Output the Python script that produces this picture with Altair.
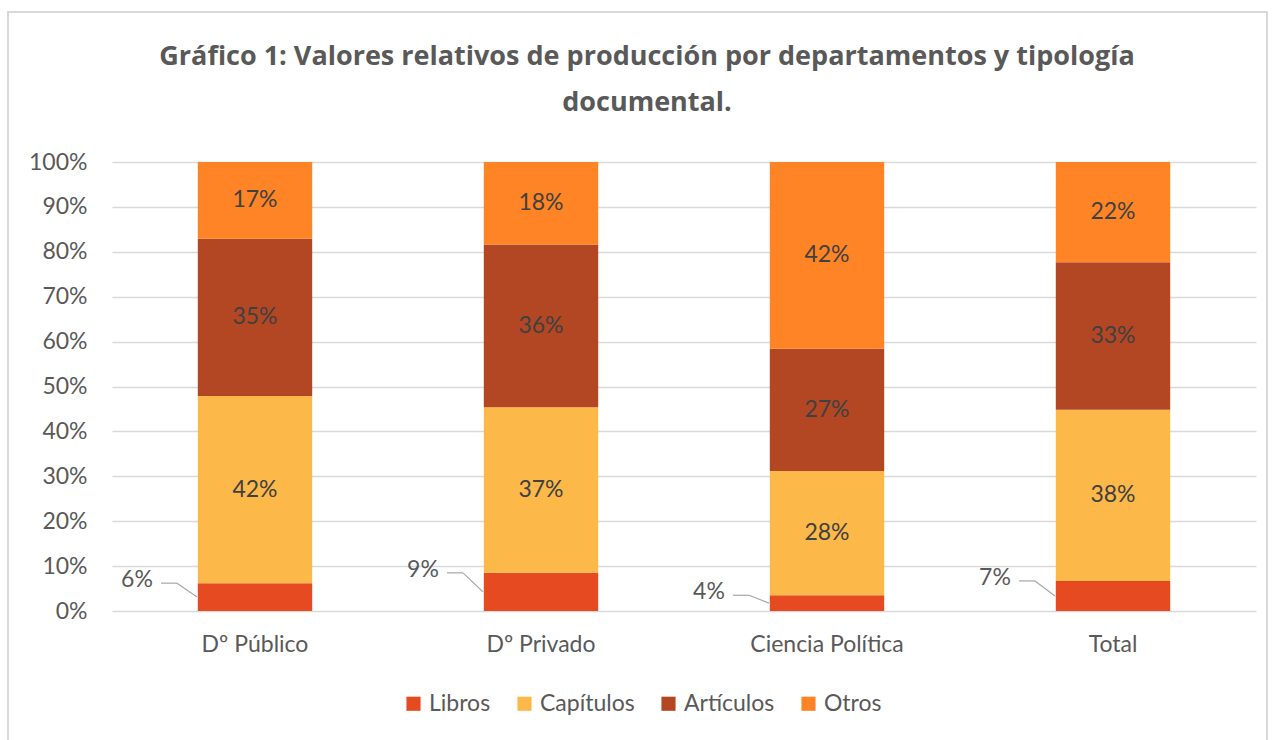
import altair as alt
import pandas as pd

departamentos = ["Dº Público", "Dº Privado", "Ciencia Política", "Total"]
tipologias = ["Libros", "Capítulos", "Artículos", "Otros"]
libros = [6.2, 8.5, 3.5, 6.7]
capitulos = [41.7, 36.9, 27.7, 38.1]
articulos = [35.0, 36.2, 27.2, 32.9]
otros = [17.1, 18.4, 41.6, 22.3]
colores = ["#E64A20", "#FDB84A", "#B34724", "#FF8425"]
titulo = ["Gráfico 1: Valores relativos de producción por departamentos y tipología",
          "documental."]

rows = []
for i, d in enumerate(departamentos):
    acc = 0.0
    for t, serie in zip(tipologias, [libros, capitulos, articulos, otros]):
        v = serie[i]
        rows.append({"dep": d, "tipo": t, "v": v, "y0": acc, "y1": acc + v,
                     "mid": acc + v / 2, "label": f"{int(v + 0.5)}%",
                     "orden": tipologias.index(t)})
        acc += v
df = pd.DataFrame(rows)

FONT = "Lato"
GRAY = "#595959"
FS = 23

xenc = alt.X("dep:N", sort=departamentos, title=None,
             scale=alt.Scale(paddingInner=0.6, paddingOuter=0.3),
             axis=alt.Axis(labelAngle=0, labelFontSize=FS, labelColor=GRAY,
                           labelFont=FONT, ticks=False, domain=False,
                           labelPadding=22))
yscale = alt.Scale(domain=[0, 100], nice=False)

base = alt.Chart(df)

border = alt.Chart(pd.DataFrame({"a": [0]})).mark_rect(
    fill="transparent", stroke="#D9D9D9", strokeWidth=2
).encode(x=alt.value(-104), x2=alt.value(1155), y=alt.value(-150), y2=alt.value(640))

title_df = pd.DataFrame({"t": titulo, "linea": [0, 1]})
title1 = alt.Chart(title_df).transform_filter("datum.linea == 0").mark_text(
    fontSize=27, font="Open Sans", fontWeight="bold", color=GRAY, baseline="middle", align="center"
).encode(x=alt.value(535), y=alt.value(-105), text="t:N")
title2 = alt.Chart(title_df).transform_filter("datum.linea == 1").mark_text(
    fontSize=27, font="Open Sans", fontWeight="bold", color=GRAY, baseline="middle", align="center"
).encode(x=alt.value(535), y=alt.value(-59), text="t:N")

bars = base.mark_bar().encode(
    x=xenc,
    y=alt.Y("y0:Q", scale=yscale, title=None,
            axis=alt.Axis(values=list(range(0, 101, 10)), labelExpr="datum.value + '%'",
                          labelFontSize=FS, labelColor=GRAY, labelFont=FONT,
                          ticks=False, domain=False, gridColor="#D9D9D9",
                          gridWidth=1.5, labelPadding=25)),
    y2="y1:Q",
    color=alt.Color("tipo:N", sort=tipologias,
                    scale=alt.Scale(domain=tipologias, range=colores),
                    legend=alt.Legend(title=None, orient="none", direction="horizontal",
                                      legendX=290, legendY=530, symbolType="square",
                                      symbolSize=200, symbolStrokeWidth=0,
                                      labelFontSize=FS, labelColor=GRAY, labelFont=FONT,
                                      columnPadding=22, symbolOffset=0, labelOffset=4)),
    order=alt.Order("orden:Q"),
)

inner = base.transform_filter("datum.tipo != 'Libros'").mark_text(
    fontSize=FS, color="#404040", font=FONT
).encode(x=alt.X("dep:N", sort=departamentos), y=alt.Y("mid:Q", scale=yscale), text="label:N")

libros_lbl = base.transform_filter("datum.tipo == 'Libros'").mark_text(
    fontSize=FS, color=GRAY, font=FONT, dx=-118, dy=-3
).encode(x=alt.X("dep:N", sort=departamentos), y=alt.Y("y1:Q", scale=yscale), text="label:N")

lead_h = base.transform_filter("datum.tipo == 'Libros'").mark_rule(
    color="#A6A6A6", strokeWidth=1.2, xOffset=-94, x2Offset=-78
).encode(x=alt.X("dep:N", sort=departamentos), x2="dep:N",
         y=alt.Y("y1:Q", scale=yscale))

lead_d = base.transform_filter("datum.tipo == 'Libros'").mark_rule(
    color="#A6A6A6", strokeWidth=1.2, xOffset=-78, x2Offset=-58
).encode(x=alt.X("dep:N", sort=departamentos), x2="dep:N",
         y=alt.Y("y1:Q", scale=yscale), y2="mid:Q")

chart = alt.layer(border, title1, title2, bars, inner, lead_h, lead_d, libros_lbl).properties(
    width=1144, height=449,
    autosize=alt.AutoSizeParams(type="none"),
    padding={"left": 112, "top": 162, "right": 19, "bottom": 129},
).configure_view(stroke=None)

chart.save("out.html", embed_options={"renderer": "svg", "actions": False})
